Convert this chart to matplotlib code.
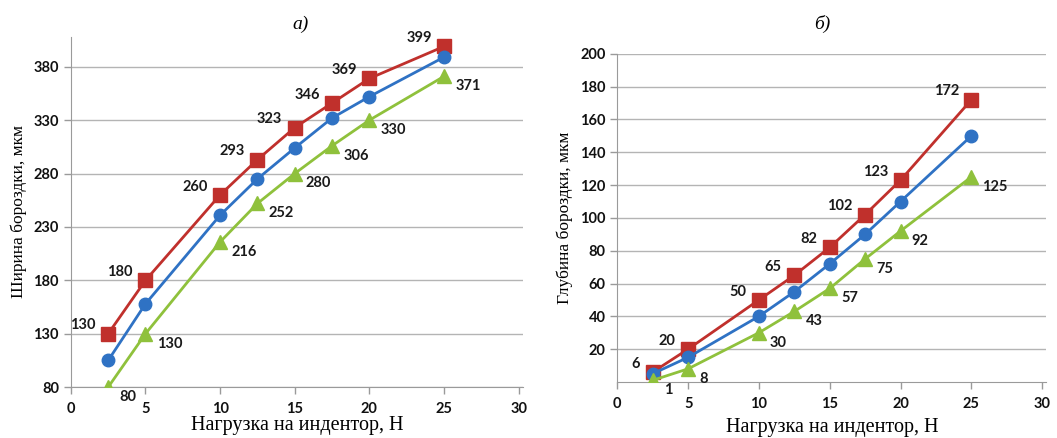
import numpy as np
import matplotlib
matplotlib.use("Agg")
import matplotlib.pyplot as plt

# нагрузка на индентор, Н
load = [2.5, 5, 10, 12.5, 15, 17.5, 20, 25]

# а) ширина бороздки, мкм
width_red = [130, 180, 260, 293, 323, 346, 369, 399]
width_blue = [105, 158, 241, 275, 304, 332, 352, 389]
width_green = [80, 130, 216, 252, 280, 306, 330, 371]

# б) глубина бороздки, мкм
depth_red = [6, 20, 50, 65, 82, 102, 123, 172]
depth_blue = [5, 15, 40, 55, 72, 90, 110, 150]
depth_green = [1, 8, 30, 43, 57, 75, 92, 125]

x_ticks = [0, 5, 10, 15, 20, 25, 30]
width_ticks = [80, 130, 180, 230, 280, 330, 380]
depth_ticks = [20, 40, 60, 80, 100, 120, 140, 160, 180, 200]

RED = "#c0302c"
BLUE = "#2f72c4"
GREEN = "#8fc13c"
SERIF = "Liberation Serif"
SANS = "Lato"


def style_axes(ax, yticks, ylim):
    ax.set_xlim(0, 30.3)
    ax.set_ylim(*ylim)
    ax.set_xticks(x_ticks)
    ax.set_yticks(yticks)
    ax.grid(axis="y", color="#b4b4b4", linewidth=1.0)
    ax.set_axisbelow(True)
    for s in ["top", "right"]:
        ax.spines[s].set_visible(False)
    for s in ["left", "bottom"]:
        ax.spines[s].set_color("#9a9a9a")
    ax.tick_params(axis="both", colors="#9a9a9a", length=5, width=1, direction="out",
                   labelcolor="#111111", labelsize=10.5)
    ax.tick_params(axis="x", pad=6)
    for lab in ax.get_xticklabels() + ax.get_yticklabels():
        lab.set_fontfamily(SANS)
        lab.set_fontweight("bold")


def draw(ax, red, blue, green):
    ax.plot(load, red, color=RED, lw=2, marker="s", ms=10, zorder=3)
    ax.plot(load, blue, color=BLUE, lw=2, marker="o", ms=9, zorder=3)
    ax.plot(load, green, color=GREEN, lw=2, marker="^", ms=10, zorder=3)
    for x, y in zip(load, red):
        ax.annotate(str(y), (x, y), xytext=(-9, 6), textcoords="offset points",
                    ha="right", va="center", fontsize=10.5, fontweight="bold",
                    family=SANS, color="#1a1a1a")
    for x, y in zip(load, green):
        ax.annotate(str(y), (x, y), xytext=(8, -2), textcoords="offset points",
                    ha="left", va="top", fontsize=10.5, fontweight="bold",
                    family=SANS, color="#1a1a1a")


fig = plt.figure(figsize=(10.57, 4.38), dpi=100)

ax1 = fig.add_axes([0.067, 0.116, 0.428, 0.800])
draw(ax1, width_red, width_blue, width_green)
style_axes(ax1, width_ticks, (80, 408))
ax1.set_xlabel("Нагрузка на индентор, Н", family=SERIF, fontsize=14.5, labelpad=0)
ax1.set_ylabel("Ширина бороздки, мкм", family=SERIF, fontsize=12.5, labelpad=5)
fig.text(0.284, 0.935, "а)", family=SERIF, style="italic", fontsize=14, ha="center")

ax2 = fig.add_axes([0.584, 0.128, 0.406, 0.749])
draw(ax2, depth_red, depth_blue, depth_green)
style_axes(ax2, depth_ticks, (0, 200))
ax2.set_xlabel("Нагрузка на индентор, Н", family=SERIF, fontsize=14.5, labelpad=5)
ax2.set_ylabel("Глубина бороздки, мкм", family=SERIF, fontsize=12.5, labelpad=5)
fig.text(0.778, 0.935, "б)", family=SERIF, style="italic", fontsize=14, ha="center")

fig.savefig("out.png", dpi=100)
